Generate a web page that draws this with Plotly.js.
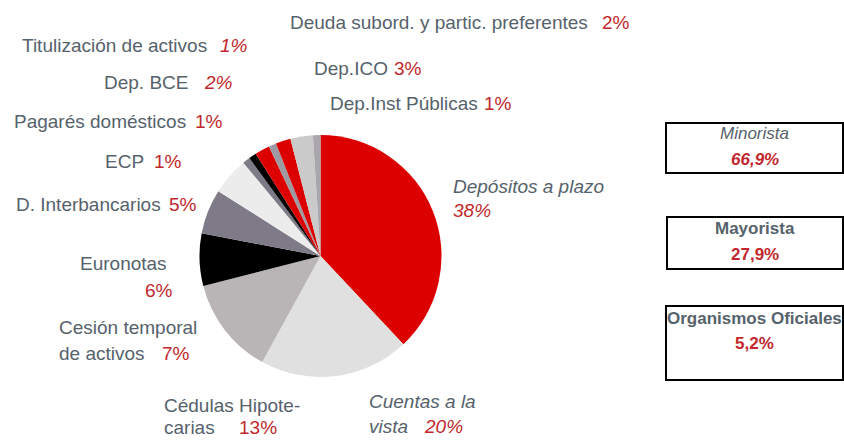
<!DOCTYPE html>
<html>
<head>
<meta charset="utf-8">
<script src="https://cdn.plot.ly/plotly-3.0.1.min.js"></script>
<style>html,body{margin:0;padding:0;background:#fff;}#chart{width:844px;height:440px;}</style>
</head>
<body>
<div id="chart"></div>
<script>
// ---- data ----
const labels = ['Depósitos a plazo','Cuentas a la vista','Cédulas Hipotecarias','Cesión temporal de activos','Euronotas','D. Interbancarios','ECP','Pagarés domésticos','Dep. BCE','Titulización de activos','Deuda subord. y partic. preferentes','Dep.ICO','Dep.Inst Públicas'];
const values = [38,20,13,7,6,5,1,1,2,1,2,3,1];
const labelLines = [['Depósitos a plazo'],['Cuentas a la','vista'],['Cédulas Hipote-','carias'],['Cesión temporal','de activos'],['Euronotas'],['D. Interbancarios'],['ECP'],['Pagarés domésticos'],['Dep. BCE'],['Titulización de activos'],['Deuda subord. y partic. preferentes'],['Dep.ICO'],['Dep.Inst Públicas']];
const groups = ['Minorista','Mayorista','Organismos Oficiales'];
const groupShares = [66.9, 27.9, 5.2];

// ---- styles / positions (pixels) ----
const W = 844, H = 440;
const GRAY = '#56626c', RED = '#c1272d';
const FONT = '"Liberation Sans", Arial, sans-serif';
const FS = 19;
const colors = ['#dd0000','#e0e0e0','#b9b5b7','#000000','#7e7a87','#ececec','#7e7a87','#000000','#dd0000','#9c9aa2','#dd0000','#cacaca','#a9a7ad'];
// [labelX, labelY (first line), lineGap, pctX, pctY, italic, anchorRight]
const pos = [
  [451,186,0,451,211,true,false],
  [367,401,25,422,426,true,false],
  [162,405,22,237,427,false,false],
  [57,327,26,160,353,false,false],
  [169,263,0,175,290,false,true],
  [14,204,0,167,204,false,false],
  [103,161,0,152,161,false,false],
  [12,121,0,193,121,false,false],
  [102,83,0,202,83,false,false],
  [20,45,0,218,45,false,false],
  [288,23,0,600,23,false,false],
  [312,68,0,392,68,false,false],
  [328,103,0,482,103,false,false]
];
const pctItalic = [true,true,false,false,false,false,false,false,true,true,false,false,false];

const px = x => x / W, py = y => 1 - y / H;
const annotations = [];
labels.forEach((lab, i) => {
  const p = pos[i];
  labelLines[i].forEach((ln, k) => {
    annotations.push({
      xref:'paper', yref:'paper', x: px(p[0]), y: py(p[1] + k * p[2]),
      xanchor: p[6] ? 'right' : 'left', yanchor:'middle', showarrow:false,
      text: p[5] ? '<i>' + ln + '</i>' : ln,
      font:{family:FONT, size:FS, color:GRAY}
    });
  });
  const t = values[i] + '%';
  annotations.push({
    xref:'paper', yref:'paper', x: px(p[3]), y: py(p[4]),
    xanchor: p[6] ? 'right' : 'left', yanchor:'middle', showarrow:false,
    text: pctItalic[i] ? '<i>' + t + '</i>' : t,
    font:{family:FONT, size:FS, color:RED}
  });
});

// boxes
const boxes = [[666,123,843,173,133,159,true],[667,217,843,269,228,254,false],[666,306,843,380,318,343,false]];
const shapes = [];
groups.forEach((g, i) => {
  const b = boxes[i];
  shapes.push({type:'rect', xref:'paper', yref:'paper', x0:px(b[0]), x1:px(b[2]), y0:py(b[1]), y1:py(b[3]), line:{color:'#000', width:2}, fillcolor:'rgba(0,0,0,0)'});
  const cx = (b[0] + b[2]) / 2;
  const share = groupShares[i].toFixed(1).replace('.', ',') + '%';
  annotations.push({xref:'paper', yref:'paper', x:px(cx), y:py(b[4]), xanchor:'center', yanchor:'middle', showarrow:false,
    text: b[6] ? '<i>' + g + '</i>' : '<b>' + g + '</b>', font:{family:FONT, size:17, color:GRAY}});
  annotations.push({xref:'paper', yref:'paper', x:px(cx), y:py(b[5]), xanchor:'center', yanchor:'middle', showarrow:false,
    text: b[6] ? '<b><i>' + share + '</i></b>' : '<b>' + share + '</b>', font:{family:FONT, size:17, color:RED}});
});

const cx = 320.5, cy = 256, r = 121;
const trace = {
  type:'pie', labels: labels, values: values, sort:false, direction:'clockwise', rotation:0,
  marker:{colors: colors, line:{width:0}}, textinfo:'none', hoverinfo:'label+percent',
  domain:{x:[px(cx - r), px(cx + r)], y:[py(cy + r), py(cy - r)]}
};
const layout = {
  width:W, height:H, margin:{l:0,r:0,t:0,b:0}, showlegend:false,
  paper_bgcolor:'#fff', annotations: annotations, shapes: shapes
};
Plotly.newPlot('chart', [trace], layout, {displayModeBar:false, staticPlot:true});
</script>
</body>
</html>
